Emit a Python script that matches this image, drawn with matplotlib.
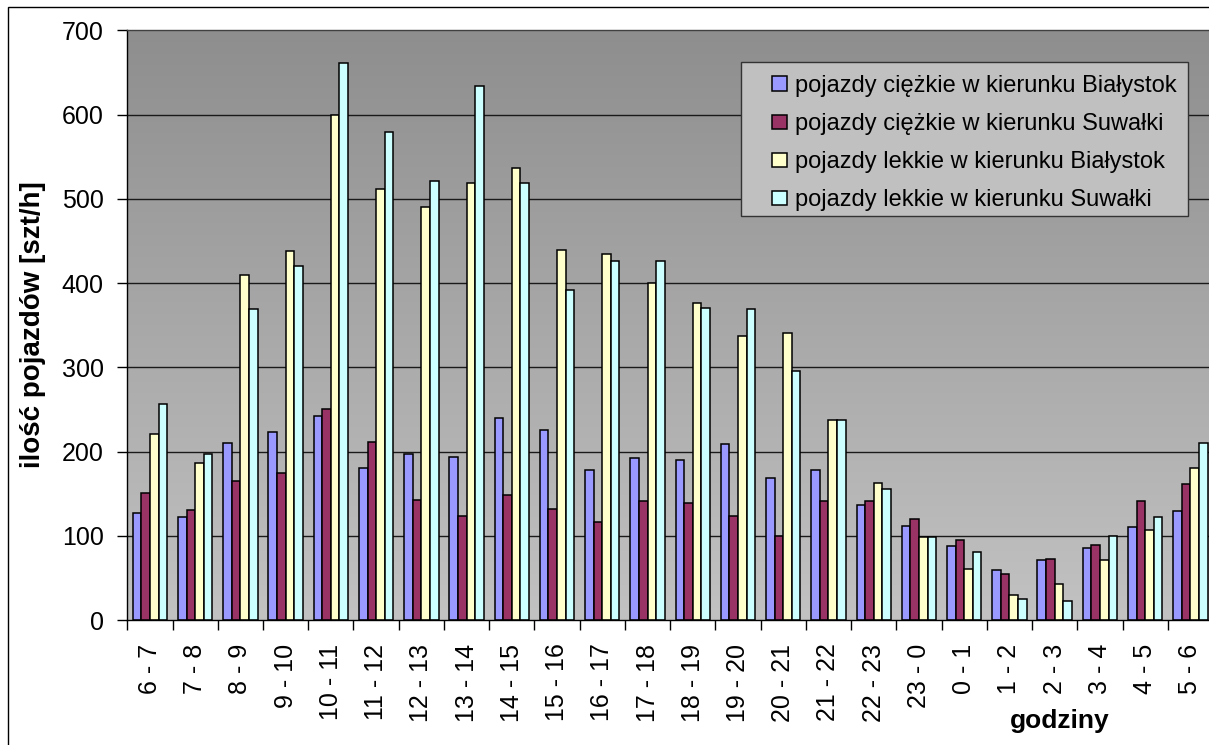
import matplotlib
matplotlib.use("Agg")
import matplotlib.pyplot as plt
import numpy as np
from matplotlib.patches import Rectangle
from matplotlib.colors import LinearSegmentedColormap

plt.rcParams['font.family'] = ['Liberation Sans', 'DejaVu Sans']

hours = ["6 - 7", "7 - 8", "8 - 9", "9 - 10", "10 - 11", "11 - 12", "12 - 13",
         "13 - 14", "14 - 15", "15 - 16", "16 - 17", "17 - 18", "18 - 19",
         "19 - 20", "20 - 21", "21 - 22", "22 - 23", "23 - 0", "0 - 1", "1 - 2",
         "2 - 3", "3 - 4", "4 - 5", "5 - 6"]

heavy_bialystok = [127, 122, 210, 223, 242, 180, 197, 194, 240, 226, 178, 192,
                   190, 209, 169, 178, 136, 112, 88, 59, 71, 86, 110, 129]
heavy_suwalki = [151, 131, 165, 175, 250, 211, 142, 124, 148, 132, 116, 141,
                 139, 124, 100, 141, 141, 120, 95, 55, 72, 89, 141, 161]
light_bialystok = [221, 186, 410, 438, 600, 512, 490, 519, 537, 439, 434, 400,
                   376, 337, 341, 237, 163, 98, 61, 30, 43, 71, 107, 180]
light_suwalki = [257, 197, 369, 420, 661, 579, 521, 634, 519, 392, 426, 426,
                 371, 369, 296, 237, 156, 98, 81, 25, 22, 100, 122, 210]

series = [
    ("pojazdy ciężkie w kierunku Białystok", heavy_bialystok, "#9999FF"),
    ("pojazdy ciężkie w kierunku Suwałki", heavy_suwalki, "#993366"),
    ("pojazdy lekkie w kierunku Białystok", light_bialystok, "#FFFFCC"),
    ("pojazdy lekkie w kierunku Suwałki", light_suwalki, "#CCFFFF"),
]

W, H = 1209, 745
fig = plt.figure(figsize=(W / 100, H / 100), dpi=100)
fig.patch.set_facecolor("white")


def fx(px):
    return px / W


def fy(py):
    return 1 - py / H


# chart-area border (right and bottom edges run off the canvas)
fig.add_artist(Rectangle((fx(8), fy(760)), fx(1215 - 8), (760 - 6.5) / H,
                         transform=fig.transFigure, fill=False,
                         edgecolor="black", linewidth=1.0, clip_on=False))

left, right, top, bottom = 127.3, 1213, 30.4, 620
ax = fig.add_axes([fx(left), fy(bottom), (right - left) / W, (bottom - top) / H])

n = len(hours)
x = np.arange(n)
bw = 0.19

# vertical grey gradient of the plot area
grad = np.linspace(0, 1, 256).reshape(-1, 1)
cmap = LinearSegmentedColormap.from_list("bg", ["#C2C2C2", "#8E8E8E"])
ax.imshow(grad, extent=(-0.5, n - 0.5, 0, 700), origin="lower", aspect="auto",
          cmap=cmap, zorder=0)

for yv in range(100, 700, 100):
    ax.axhline(yv, color="#1a1a1a", linewidth=1.0, zorder=1)

handles = []
for i, (label, vals, color) in enumerate(series):
    h = ax.bar(x + (i - 1.5) * bw, vals, width=bw, color=color, edgecolor="black",
               linewidth=1.1, label=label, zorder=2)
    handles.append(h)

ax.set_xlim(-0.5, n - 0.5)
ax.set_ylim(0, 700)

ax.set_yticks(range(0, 701, 100))
ax.tick_params(axis="y", labelsize=18, length=7, width=1, direction="out", pad=10)

ax.set_xticks(x)
ax.set_xticklabels(hours, rotation=90, fontsize=18, va="top")
ax.tick_params(axis="x", which="major", length=0, pad=17)
ax.set_xticks(np.arange(-0.5, n, 1.0), minor=True)
ax.tick_params(axis="x", which="minor", length=7, width=1, direction="out")

for s in ax.spines.values():
    s.set_color("#404040")
    s.set_linewidth(1.0)
ax.spines["left"].set_color("black")
ax.spines["bottom"].set_color("black")

fig.text(fx(33.5), fy(325), "ilość pojazdów [szt/h]", fontsize=20,
         fontweight="bold", rotation=90, ha="center", va="center")
fig.text(fx(1060), fy(721), "godziny", fontsize=19, fontweight="bold",
         ha="center", va="center")

# legend box, drawn inside the axes below the legend entries
ax.add_patch(Rectangle((fx(741), fy(216)), fx(1188 - 741), (216 - 62) / H,
                       transform=fig.transFigure, facecolor="#C0C0C0",
                       edgecolor="#333333", linewidth=1.0, zorder=4,
                       clip_on=False))
leg = ax.legend(handles=handles, loc="upper left",
                bbox_to_anchor=(fx(772), fy(75)), bbox_transform=fig.transFigure,
                fontsize=17, frameon=False, borderpad=0, borderaxespad=0,
                handlelength=0.64, handleheight=0.56, handletextpad=0.32,
                labelspacing=0.68)
leg.set_zorder(5)

fig.savefig("out.png", dpi=100)
